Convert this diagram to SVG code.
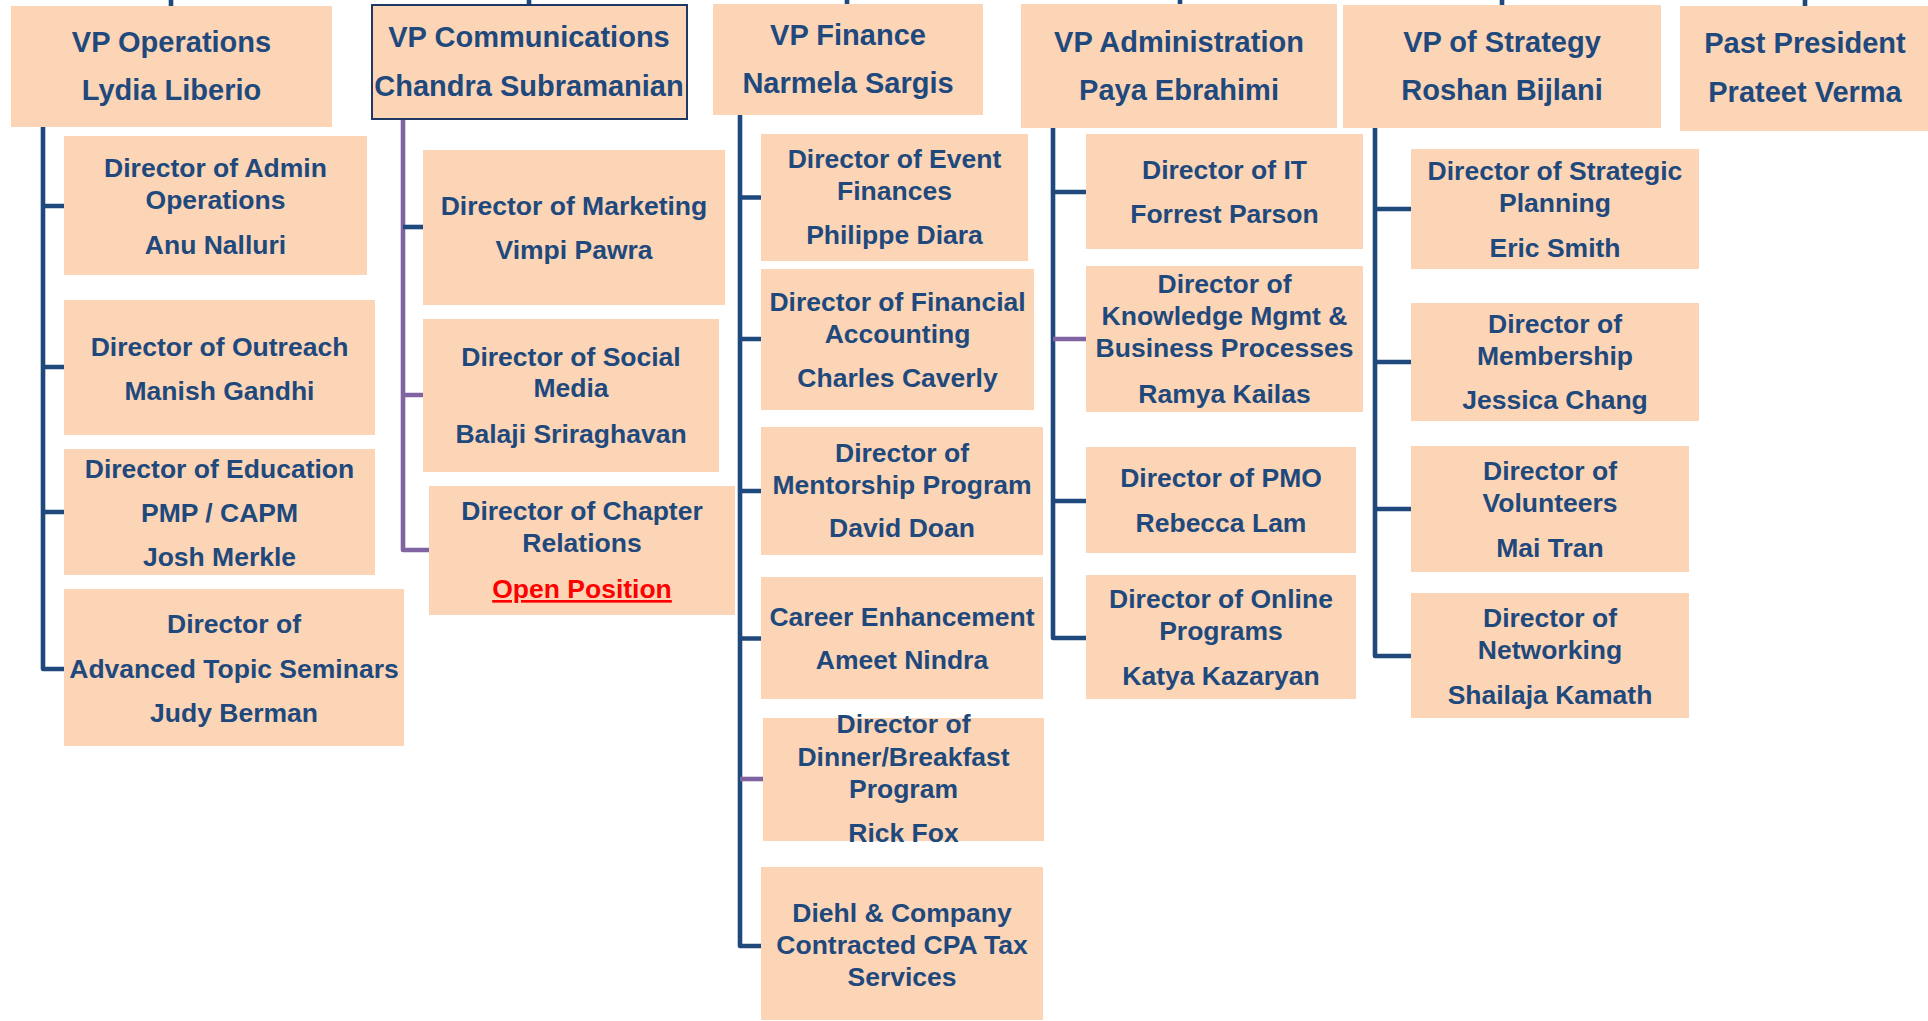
<svg xmlns="http://www.w3.org/2000/svg" width="1928" height="1021" viewBox="0 0 1928 1021">
<style>
.box{fill:#FBD5B5}
.vpb{fill:#FBD5B5;stroke:#1F3864;stroke-width:2}
text{font-family:"Liberation Sans",Arial,sans-serif;font-weight:bold;fill:#1F497D;text-anchor:middle}
.vp{font-size:29px}
.d{font-size:26.5px}
.red{fill:#FF0000;text-decoration:underline}
.ln{fill:none;stroke:#1F497D;stroke-width:4.6;stroke-linejoin:round}
.pl{fill:none;stroke:#8064A2;stroke-width:4.6;stroke-linejoin:round}
</style>
<rect width="1928" height="1021" fill="#FFFFFF"/>
<g id="connectors">
<path class="ln" d="M171 0V6M529 0V4M847 0V4M1180 0V4M1502 0V5M1805 0V6"/>
<path class="ln" d="M43 127V669H64M43 206H64M43 367H64M43 512H64"/>
<path class="pl" d="M403 119V550H429M403 395H423"/>
<path class="ln" d="M403 227H423"/>
<path class="ln" d="M740 115V946H761M740 197.5H761M740 339H761M740 491H761M740 638.5H761"/>
<path class="pl" d="M740 779H763"/>
<path class="ln" d="M1053 128V638H1086M1053 192H1086M1053 501H1086"/>
<path class="pl" d="M1053 339H1086"/>
<path class="ln" d="M1375 128V656H1411M1375 209H1411M1375 362H1411M1375 509H1411"/>
</g>
<g id="vp-operations"><rect class="box" x="11" y="6" width="321" height="121"/><text class="vp" x="171.5" y="52">VP Operations</text><text class="vp" x="171.5" y="100">Lydia Liberio</text></g>
<g id="vp-communications"><rect class="vpb" x="372" y="5" width="315" height="114"/><text class="vp" x="529" y="47">VP Communications</text><text class="vp" x="529" y="96">Chandra Subramanian</text></g>
<g id="vp-finance"><rect class="box" x="713" y="4" width="270" height="111"/><text class="vp" x="848" y="45">VP Finance</text><text class="vp" x="848" y="93">Narmela Sargis</text></g>
<g id="vp-administration"><rect class="box" x="1021" y="4" width="316" height="124"/><text class="vp" x="1179" y="52">VP Administration</text><text class="vp" x="1179" y="100">Paya Ebrahimi</text></g>
<g id="vp-strategy"><rect class="box" x="1343" y="5" width="318" height="123"/><text class="vp" x="1502" y="52">VP of Strategy</text><text class="vp" x="1502" y="100">Roshan Bijlani</text></g>
<g id="past-president"><rect class="box" x="1680" y="6" width="248" height="125"/><text class="vp" x="1805" y="53">Past President</text><text class="vp" x="1805" y="102">Prateet Verma</text></g>
<g id="admin-operations"><rect class="box" x="64" y="136" width="303" height="139"/><text class="d" x="215.5" y="177">Director of Admin</text><text class="d" x="215.5" y="209">Operations</text><text class="d" x="215.5" y="254">Anu Nalluri</text></g>
<g id="outreach"><rect class="box" x="64" y="300" width="311" height="135"/><text class="d" x="219.5" y="355.5">Director of Outreach</text><text class="d" x="219.5" y="400">Manish Gandhi</text></g>
<g id="education"><rect class="box" x="64" y="449" width="311" height="126"/><text class="d" x="219.5" y="477.5">Director of Education</text><text class="d" x="219.5" y="521.5">PMP / CAPM</text><text class="d" x="219.5" y="566">Josh Merkle</text></g>
<g id="advanced-seminars"><rect class="box" x="64" y="589" width="340" height="157"/><text class="d" x="234" y="633">Director of</text><text class="d" x="234" y="678">Advanced Topic Seminars</text><text class="d" x="234" y="722">Judy Berman</text></g>
<g id="marketing"><rect class="box" x="423" y="150" width="302" height="155"/><text class="d" x="574" y="215">Director of Marketing</text><text class="d" x="574" y="259">Vimpi Pawra</text></g>
<g id="social-media"><rect class="box" x="423" y="319" width="296" height="153"/><text class="d" x="571" y="366">Director of Social</text><text class="d" x="571" y="397">Media</text><text class="d" x="571" y="443">Balaji Sriraghavan</text></g>
<g id="chapter-relations"><rect class="box" x="429" y="486" width="306" height="129"/><text class="d" x="582" y="520">Director of Chapter</text><text class="d" x="582" y="552">Relations</text><text class="d red" x="582" y="598">Open Position</text></g>
<g id="event-finances"><rect class="box" x="761" y="134" width="267" height="127"/><text class="d" x="894.5" y="168">Director of Event</text><text class="d" x="894.5" y="200">Finances</text><text class="d" x="894.5" y="244">Philippe Diara</text></g>
<g id="financial-accounting"><rect class="box" x="761" y="269" width="273" height="141"/><text class="d" x="897.5" y="311">Director of Financial</text><text class="d" x="897.5" y="343">Accounting</text><text class="d" x="897.5" y="387">Charles Caverly</text></g>
<g id="mentorship"><rect class="box" x="761" y="427" width="282" height="128"/><text class="d" x="902" y="462">Director of</text><text class="d" x="902" y="494">Mentorship Program</text><text class="d" x="902" y="537">David Doan</text></g>
<g id="career"><rect class="box" x="761" y="577" width="282" height="122"/><text class="d" x="902" y="626">Career Enhancement</text><text class="d" x="902" y="669">Ameet Nindra</text></g>
<g id="dinner-breakfast"><rect class="box" x="763" y="718" width="281" height="123"/><text class="d" x="903.5" y="733">Director of</text><text class="d" x="903.5" y="766">Dinner/Breakfast</text><text class="d" x="903.5" y="798">Program</text><text class="d" x="903.5" y="842">Rick Fox</text></g>
<g id="diehl"><rect class="box" x="761" y="867" width="282" height="153"/><text class="d" x="902" y="922">Diehl &amp; Company</text><text class="d" x="902" y="954">Contracted CPA Tax</text><text class="d" x="902" y="986">Services</text></g>
<g id="it"><rect class="box" x="1086" y="134" width="277" height="115"/><text class="d" x="1224.5" y="179">Director of IT</text><text class="d" x="1224.5" y="223">Forrest Parson</text></g>
<g id="knowledge"><rect class="box" x="1086" y="266" width="277" height="146"/><text class="d" x="1224.5" y="293">Director of</text><text class="d" x="1224.5" y="325">Knowledge Mgmt &amp;</text><text class="d" x="1224.5" y="357">Business Processes</text><text class="d" x="1224.5" y="403">Ramya Kailas</text></g>
<g id="pmo"><rect class="box" x="1086" y="447" width="270" height="106"/><text class="d" x="1221" y="487">Director of PMO</text><text class="d" x="1221" y="532">Rebecca Lam</text></g>
<g id="online"><rect class="box" x="1086" y="575" width="270" height="124"/><text class="d" x="1221" y="608">Director of Online</text><text class="d" x="1221" y="640">Programs</text><text class="d" x="1221" y="685">Katya Kazaryan</text></g>
<g id="strategic-planning"><rect class="box" x="1411" y="149" width="288" height="120"/><text class="d" x="1555" y="180">Director of Strategic</text><text class="d" x="1555" y="212">Planning</text><text class="d" x="1555" y="257">Eric Smith</text></g>
<g id="membership"><rect class="box" x="1411" y="303" width="288" height="118"/><text class="d" x="1555" y="333">Director of</text><text class="d" x="1555" y="365">Membership</text><text class="d" x="1555" y="409">Jessica Chang</text></g>
<g id="volunteers"><rect class="box" x="1411" y="446" width="278" height="126"/><text class="d" x="1550" y="480">Director of</text><text class="d" x="1550" y="512">Volunteers</text><text class="d" x="1550" y="557">Mai Tran</text></g>
<g id="networking"><rect class="box" x="1411" y="593" width="278" height="125"/><text class="d" x="1550" y="627">Director of</text><text class="d" x="1550" y="659">Networking</text><text class="d" x="1550" y="704">Shailaja Kamath</text></g>
</svg>
